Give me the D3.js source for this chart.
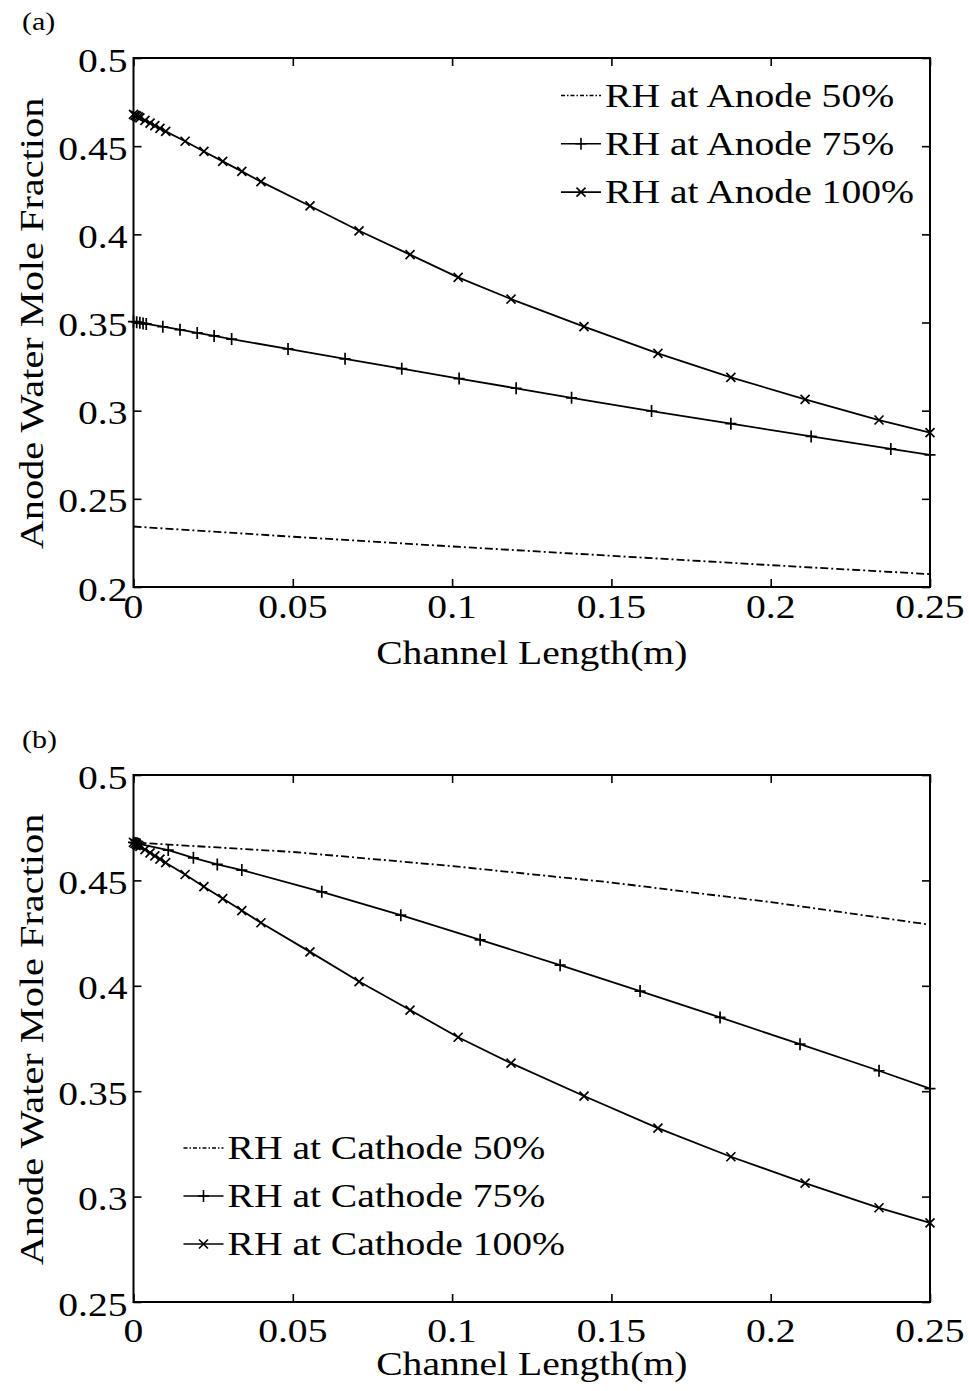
<!DOCTYPE html>
<html>
<head>
<meta charset="utf-8">
<script src="https://cdn.jsdelivr.net/npm/d3@7"></script>
<style>
  body { margin: 0; background: #fff; }
  svg { display: block; }
  text { font-family: "Liberation Serif", "Times New Roman", serif; fill: #000; }
</style>
</head>
<body>
<svg id="fig" width="969" height="1391"></svg>
<script>
// ---- axis ticks ----
const xTicks = [0, 0.05, 0.1, 0.15, 0.2, 0.25];
const xTickLabels = ["0", "0.05", "0.1", "0.15", "0.2", "0.25"];
const yTicksA = [0.2, 0.25, 0.3, 0.35, 0.4, 0.45, 0.5];
const yTickLabelsA = ["0.2", "0.25", "0.3", "0.35", "0.4", "0.45", "0.5"];
const yTicksB = [0.25, 0.3, 0.35, 0.4, 0.45, 0.5];
const yTickLabelsB = ["0.25", "0.3", "0.35", "0.4", "0.45", "0.5"];

// ---- RH 100% at both electrodes (same curve in both panels) ----
const x100 = [0, 0.0005, 0.001, 0.0015, 0.002, 0.0036, 0.0052, 0.0067, 0.0083, 0.0101,
              0.0162, 0.0221, 0.028, 0.034, 0.040, 0.0554, 0.0708, 0.0868, 0.1019, 0.1185,
              0.1414, 0.1646, 0.1875, 0.2108, 0.234, 0.25];
const y100 = [0.4680, 0.4675, 0.4671, 0.4666, 0.4661, 0.4646, 0.4631, 0.4616, 0.4601, 0.4584,
              0.4528, 0.4470, 0.4414, 0.4357, 0.4299, 0.4161, 0.4020, 0.3885, 0.3756, 0.3633,
              0.3477, 0.3325, 0.3189, 0.3064, 0.2947, 0.2875];

// ---- panel (a): anode humidity varied ----
const xA75 = [0, 0.001, 0.002, 0.003, 0.004, 0.0092, 0.0146, 0.0200, 0.0253, 0.0308,
              0.0485, 0.0664, 0.0842, 0.1022, 0.1201, 0.1375, 0.1626, 0.1875, 0.2127, 0.2377, 0.25];
const yA75 = [0.3505, 0.3502, 0.3498, 0.3495, 0.3492, 0.3476, 0.3459, 0.3441, 0.3424, 0.3406,
              0.3350, 0.3294, 0.3238, 0.3182, 0.3127, 0.3073, 0.2998, 0.2926, 0.2854, 0.2783, 0.2749];
const xA50 = [0, 0.05, 0.1, 0.15, 0.2, 0.25];
const yA50 = [0.2343, 0.2285, 0.2230, 0.2177, 0.2124, 0.2073];

// ---- panel (b): cathode humidity varied ----
const xB75 = [0, 0.0005, 0.001, 0.0015, 0.002, 0.0109, 0.0188, 0.0263, 0.034, 0.0591,
              0.0839, 0.1088, 0.1339, 0.1590, 0.1841, 0.2092, 0.2340, 0.25];
const yB75 = [0.4680, 0.4678, 0.4676, 0.4674, 0.4672, 0.4644, 0.4607, 0.4576, 0.4549, 0.4446,
              0.4335, 0.4218, 0.4098, 0.3975, 0.3850, 0.3723, 0.3597, 0.3512];
const xB50 = [0, 0.05, 0.1, 0.15, 0.2, 0.25];
const yB50 = [0.4680, 0.4635, 0.4568, 0.4490, 0.4397, 0.4290];

const legendA = ["RH at Anode 50%", "RH at Anode 75%", "RH at Anode 100%"];
const legendB = ["RH at Cathode 50%", "RH at Cathode 75%", "RH at Cathode 100%"];

const xTitle = "Channel Length(m)";
const yTitle = "Anode Water Mole Fraction";

// ---- drawing ----
const svg = d3.select("#fig");
const SX = 1.2;          // glyph width stretch of the figure's typeface
const FONT = 33;

function label(g, str, x, y, opt = {}) {
  return g.append("text")
    .attr("transform", `translate(${x},${y}) rotate(${opt.rotate || 0}) scale(${SX},1)`)
    .attr("text-anchor", opt.anchor || "start")
    .style("font-size", (opt.size || FONT) + "px")
    .text(str);
}

const plus = "M-5.5,0H5.5M0,-6V6";
const cross = "M-4.5,-4.5L4.5,4.5M-4.5,4.5L4.5,-4.5";
const dashDot = "8,3,2,3";

function panel(cfg) {
  const g = svg.append("g");
  const x = d3.scaleLinear().domain([0, 0.25]).range([cfg.left, cfg.right]);
  const y = d3.scaleLinear().domain(cfg.yDomain).range([cfg.bottom, cfg.top]);

  // ticks on all four sides, pointing inward
  g.append("g").attr("transform", `translate(0,${cfg.bottom})`)
    .call(d3.axisBottom(x).tickValues(xTicks).tickSize(-8).tickSizeOuter(0).tickFormat(""));
  g.append("g").attr("transform", `translate(0,${cfg.top})`)
    .call(d3.axisTop(x).tickValues(xTicks).tickSize(-8).tickSizeOuter(0).tickFormat(""));
  g.append("g").attr("transform", `translate(${cfg.left},0)`)
    .call(d3.axisLeft(y).tickValues(cfg.yTicks).tickSize(-8).tickSizeOuter(0).tickFormat(""));
  g.append("g").attr("transform", `translate(${cfg.right},0)`)
    .call(d3.axisRight(y).tickValues(cfg.yTicks).tickSize(-8).tickSizeOuter(0).tickFormat(""));
  g.selectAll(".tick line").attr("stroke", "#000").attr("stroke-width", 1.6);
  g.selectAll(".domain").remove();
  g.append("rect")
    .attr("x", cfg.left).attr("y", cfg.top)
    .attr("width", cfg.right - cfg.left).attr("height", cfg.bottom - cfg.top)
    .attr("fill", "none").attr("stroke", "#000").attr("stroke-width", 2);

  // tick labels
  xTicks.forEach((v, i) => label(g, xTickLabels[i], x(v), cfg.bottom + cfg.xLabOff, { anchor: "middle" }));
  cfg.yTicks.forEach((v, i) => label(g, cfg.yTickLabels[i], cfg.left - 6, y(v) + 13.5, { anchor: "end" }));

  // axis titles
  label(g, xTitle, (cfg.left + cfg.right) / 2, cfg.xTitleY, { anchor: "middle" });
  label(g, yTitle, 43, (cfg.top + cfg.bottom) / 2 + 1, { anchor: "middle", rotate: -90, size: 33.6 });
  label(g, cfg.tag, 22, cfg.tagY, { size: 25 });

  // data series
  const line = d3.line().x(d => x(d[0])).y(d => y(d[1]));
  cfg.series.forEach(s => {
    const pts = s.x.map((v, i) => [v, s.y[i]]);
    g.append("path").datum(pts).attr("d", line)
      .attr("fill", "none").attr("stroke", "#000").attr("stroke-width", 1.8)
      .attr("stroke-dasharray", s.dash || null);
    if (s.marker) {
      g.selectAll(null).data(pts).enter().append("path")
        .attr("transform", d => `translate(${x(d[0])},${y(d[1])})`)
        .attr("d", s.marker).attr("fill", "none").attr("stroke", "#000").attr("stroke-width", 1.7);
    }
  });

  // legend
  cfg.series.forEach((s, i) => {
    const by = cfg.legY + i * cfg.legStep;
    const ly = by - 11;
    g.append("line").attr("x1", cfg.legX).attr("x2", cfg.legX + 40)
      .attr("y1", ly).attr("y2", ly).attr("stroke", "#000").attr("stroke-width", 1.6)
      .attr("stroke-dasharray", s.dash ? "4,2,1.5,2" : null);
    if (s.marker) {
      g.append("path").attr("transform", `translate(${cfg.legX + 20},${ly})`)
        .attr("d", s.marker).attr("fill", "none").attr("stroke", "#000").attr("stroke-width", 1.6);
    }
    label(g, cfg.legend[i], cfg.legX + 44, by);
  });
}

panel({
  tag: "(a)", tagY: 30,
  left: 133.5, right: 930, top: 58, bottom: 587,
  yDomain: [0.2, 0.5], yTicks: yTicksA, yTickLabels: yTickLabelsA,
  xLabOff: 31, xTitleY: 664,
  series: [
    { x: xA50, y: yA50, dash: dashDot },
    { x: xA75, y: yA75, marker: plus },
    { x: x100, y: y100, marker: cross }
  ],
  legend: legendA, legX: 561, legY: 106.5, legStep: 48.3
});

panel({
  tag: "(b)", tagY: 748,
  left: 133.5, right: 930, top: 775, bottom: 1302,
  yDomain: [0.25, 0.5], yTicks: yTicksB, yTickLabels: yTickLabelsB,
  xLabOff: 39.5, xTitleY: 1375,
  series: [
    { x: xB50, y: yB50, dash: dashDot },
    { x: xB75, y: yB75, marker: plus },
    { x: x100, y: y100, marker: cross }
  ],
  legend: legendB, legX: 183.5, legY: 1159, legStep: 48
});
</script>
</body>
</html>
